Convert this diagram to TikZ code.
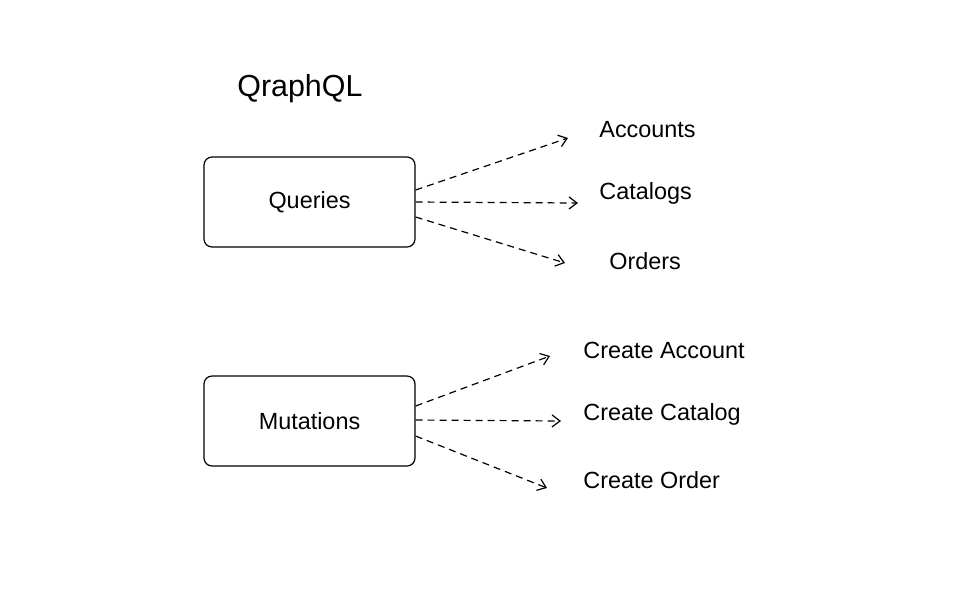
\documentclass[tikz,border=0pt]{standalone}
\usepackage{fontspec}
\setmainfont{Liberation Sans}
\usetikzlibrary{arrows.meta}
\begin{document}
\begin{tikzpicture}[x={(1pt,0)},y={(0,1pt)},scale=0.5,
  box/.style={draw,rounded corners=4pt,minimum width=105.5pt,minimum height=45pt,line width=0.6pt,font=\fontsize{11.7}{14}\selectfont},
  item/.style={anchor=base west,inner sep=0pt,font=\fontsize{11.7}{14}\selectfont},
  link/.style={dash pattern=on 3.5pt off 2.5pt,line width=0.6pt,-{Straight Barb[length=4pt,width=6pt]}}]
      \useasboundingbox (0,0) rectangle (978,-612);
      \node[anchor=base west,inner sep=0pt,font=\fontsize{15.2}{18}\selectfont] (title) at (237,-96) {QraphQL};
      \node[box] (Q) at (309.5,-202) {Queries};
      \node[box] (M) at (309.5,-421) {Mutations};
      \foreach \name/\txt/\x/\y in {1/Accounts/599/137.5, 2/Catalogs/599/199, 3/Orders/609/269.5}
       { \node[item] (Q-\name) at (\x,-\y) {\txt};}
      \foreach \name/\txt/\x/\y in {1/Create Account/583/358.5, 2/Create Catalog/583/420, 3/Create Order/583/488.5}
       { \node[item] (M-\name) at (\x,-\y) {\txt};}
      \foreach \i/\dy/\ex/\ey in {1/12/568/138, 2/0/578/203, 3/-15/565/263}
       { \coordinate (Q-end-\i) at (\ex,-\ey);
         \draw[link] ([yshift=\dy pt]Q.east) -- (Q-end-\i);}
      \foreach \i/\dy/\ex/\ey in {1/15/550/356, 2/1/561/421, 3/-15/547/488}
       { \coordinate (M-end-\i) at (\ex,-\ey);
         \draw[link] ([yshift=\dy pt]M.east) -- (M-end-\i);}
      \end{tikzpicture}
\end{document}
